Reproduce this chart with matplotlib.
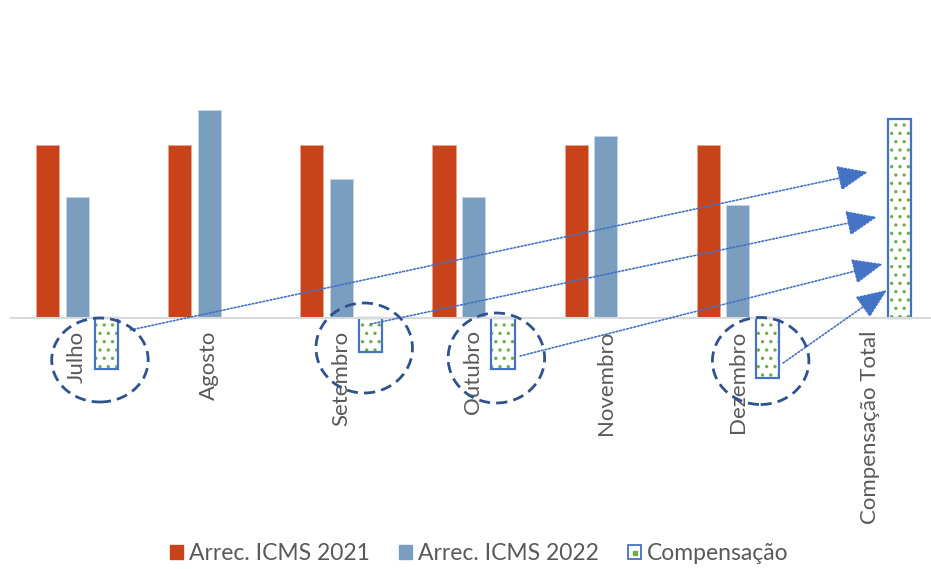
import matplotlib.pyplot as plt
from matplotlib.patches import Ellipse, Patch
from matplotlib.lines import Line2D
import numpy as np

meses = ['Julho', 'Agosto', 'Setembro', 'Outubro', 'Novembro', 'Dezembro', 'Compensação Total']
icms_2021 = [173, 173, 173, 173, 173, 173, np.nan]
icms_2022 = [121, 208, 139, 121, 182, 113, np.nan]
compensacao = [-51, 0, -34, -51, 0, -60, 199]

# arrows from each monthly compensation to the total bar:
# (mes, deslocamento x inicio, y inicio, x fim, y fim)
setas = [(0, 0.18, -12, 5.985, 146),
         (2, 0.0, -6, 6.053, 101),
         (3, 0.13, -38, 6.098, 54),
         (5, 0.12, -45, 6.129, 28)]

# ellipse centre heights (y) and heights around each monthly compensation
elipses = [(0, -42, 84), (2, -30, 90), (3, -40, 90), (5, -43, 87)]

cor_2021 = '#C8421A'
cor_2022 = '#7A9EC0'
cor_verde = '#70AD47'
cor_azul = '#4472C4'
cor_elipse = '#2F528F'
cor_texto = '#595959'

plt.rcParams['font.family'] = ['Lato', 'DejaVu Sans']
plt.rcParams['hatch.linewidth'] = 1.2

fig = plt.figure(figsize=(9.31, 5.69), dpi=100)
ax = fig.add_axes([11 / 931, 51 / 569, 925 / 931, 460 / 569])

x = np.arange(len(meses))
passo = 0.223
larg = 0.175

ax.bar(x - passo, icms_2021, larg, color=cor_2021, edgecolor='#E8A590', linewidth=0.6)
ax.bar(x, icms_2022, larg, color=cor_2022, edgecolor='#C5D5E5', linewidth=0.6)

comp = np.array(compensacao, dtype=float)
comp[comp == 0] = np.nan
ax.bar(x + passo, comp, larg, color='white', edgecolor=cor_verde, hatch='..', linewidth=0)
ax.bar(x + passo, comp, larg, color='none', edgecolor=cor_azul, linewidth=1.6)

# dashed ellipses around the monthly compensations
for i, yc, h in elipses:
    e = Ellipse((x[i] + passo - 0.05, yc), 0.73, h, fill=False,
                edgecolor=cor_elipse, linewidth=2, linestyle=(0, (4, 2.2)), zorder=5)
    ax.add_patch(e)

for i, dx, y0, x1, y1 in setas:
    ax.annotate('', xy=(x1, y1), xytext=(x[i] + passo + dx, y0),
                arrowprops=dict(arrowstyle='-|>,head_length=1.2,head_width=0.5',
                                color=cor_azul, linestyle=(0, (1, 1.2)), linewidth=1.2,
                                shrinkA=0, shrinkB=0, mutation_scale=16))

ax.set_xlim(-0.5, 6.5)
ax.set_ylim(-200, 260)
for s in ['top', 'right', 'left']:
    ax.spines[s].set_visible(False)
ax.spines['bottom'].set_position(('data', 0))
ax.spines['bottom'].set_color('#D9D9D9')
ax.spines['bottom'].set_linewidth(1.5)
ax.set_yticks([])
ax.set_xticks(x)
ax.set_xticklabels(meses, rotation=90, fontsize=16, color=cor_texto)
ax.tick_params(axis='x', length=0, pad=9)

marca_comp = (Patch(facecolor='white', edgecolor=cor_azul, linewidth=1.3),
              Line2D([], [], marker='s', markersize=2.2, color=cor_verde, linestyle='none'))
handles = [Patch(facecolor=cor_2021, edgecolor=cor_2021),
           Patch(facecolor=cor_2022, edgecolor=cor_2022),
           marca_comp]
leg = fig.legend(handles, ['Arrec. ICMS 2021', 'Arrec. ICMS 2022', 'Compensação'],
                 loc='lower center', bbox_to_anchor=(0.515, -0.028), ncol=3, frameon=False,
                 fontsize=16.5, handlelength=0.55, handleheight=0.55, handletextpad=0.25,
                 columnspacing=1.3)
for t in leg.get_texts():
    t.set_color(cor_texto)

fig.savefig('out.png', dpi=100)
